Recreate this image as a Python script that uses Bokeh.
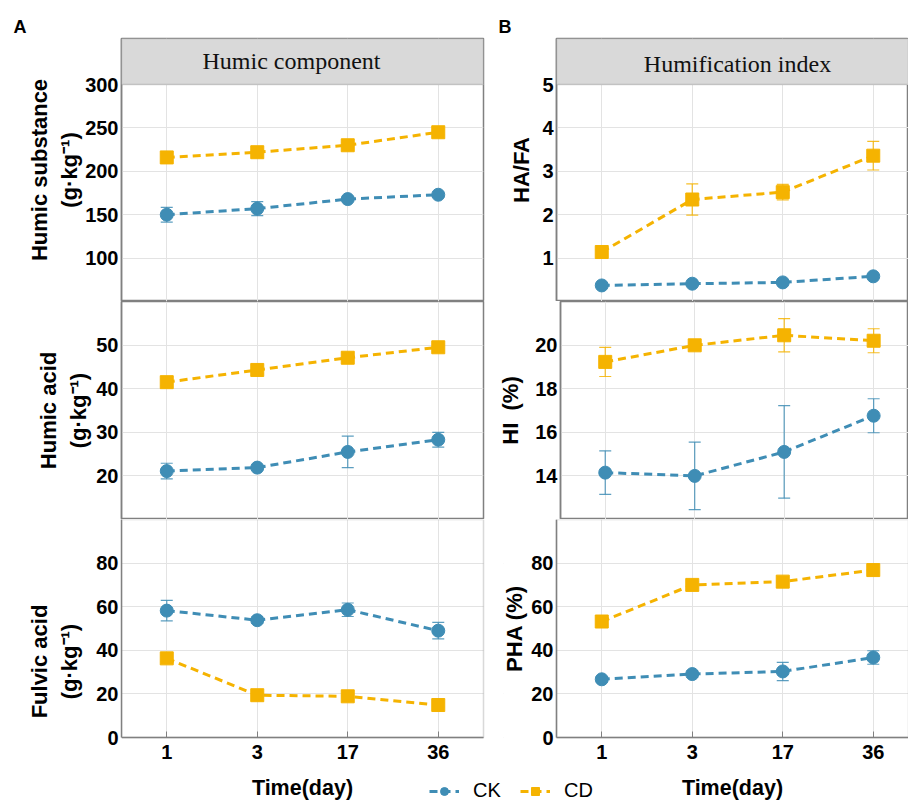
from bokeh.plotting import figure
from bokeh.layouts import column, row
from bokeh.models import (Range1d, FixedTicker, Whisker, ColumnDataSource, Label,
                          Legend, LegendItem, TeeHead, BoxAnnotation)
from bokeh.embed import file_html
from bokeh.resources import INLINE

# ---------------- data ----------------
days = ["1", "3", "17", "36"]

hs_ck = [150, 157, 168, 173]
hs_ck_err = [8.5, 8, 3, 3]
hs_cd = [216, 222, 230, 245]
hs_cd_err = [3, 3, 3, 3]

ha_ck = [21.1, 21.9, 25.5, 28.3]
ha_ck_err = [1.8, 0.6, 3.6, 1.7]
ha_cd = [41.5, 44.3, 47.1, 49.5]
ha_cd_err = [0.8, 0.8, 0.8, 0.8]

fa_ck = [58.2, 53.8, 58.6, 49.0]
fa_ck_err = [4.7, 1.5, 3.1, 3.8]
fa_cd = [36.3, 19.4, 18.9, 14.9]
fa_cd_err = [1.5, 1.0, 1.0, 1.0]

hafa_ck = [0.37, 0.41, 0.44, 0.58]
hafa_ck_err = [0.03, 0.03, 0.03, 0.03]
hafa_cd = [1.14, 2.35, 2.52, 3.36]
hafa_cd_err = [0.05, 0.36, 0.18, 0.33]

hi_ck = [14.15, 14.0, 15.1, 16.76]
hi_ck_err = [1.0, 1.55, 2.12, 0.78]
hi_cd = [19.23, 19.99, 20.45, 20.2]
hi_cd_err = [0.67, 0.12, 0.76, 0.55]

pha_ck = [26.7, 29.1, 30.3, 36.7]
pha_ck_err = [1.2, 1.5, 4.2, 3.1]
pha_cd = [53.2, 70.0, 71.5, 76.8]
pha_cd_err = [1.2, 1.5, 1.5, 1.2]

hs_ticks = [100, 150, 200, 250, 300]
ha_ticks = [20, 30, 40, 50]
fa_ticks = [0, 20, 40, 60, 80]
hafa_ticks = [1, 2, 3, 4, 5]
hi_ticks = [14, 16, 18, 20]
pha_ticks = [0, 20, 40, 60, 80]

hs_lim = (50, 300)
ha_lim = (10, 60)
fa_lim = (0, 100)
hafa_lim = (0, 5)
hi_lim = (12, 22)
pha_lim = (0, 100)

unit = "(g\u00b7kg\u207b\u00b9)"

# ---------------- style / layout constants ----------------
CK_COLOR = "#3f8db5"
CD_COLOR = "#f5b301"
FRAME = "#808080"
GRID = "#e3e3e3"
HEAD_FILL = "#d9d9d9"
SANS = "Liberation Sans"

x_idx = list(range(len(days)))
n = len(days)
LEFT_FRAME = 362          # full panel width in px
PX = LEFT_FRAME / n       # px per category
RIGHT_VIS = 352           # visible part of right panel
HEAD_H = 46               # header strip height
P1_H, P2_H, P3_H = 217, 218, 218
BOTTOM_H = 66             # area under bottom panels
x_lo = -0.5
x_hi = n - 0.5
x_end_right = x_lo + RIGHT_VIS / PX


def style_yaxis(p, ylabel, lab_standoff, yticks):
    yt = FixedTicker(ticks=yticks)
    p.yaxis.ticker = yt
    p.ygrid.ticker = yt
    ya = p.yaxis[0]
    ya.axis_label = ylabel
    ya.axis_label_text_font = SANS
    ya.axis_label_text_font_style = "bold"
    ya.axis_label_text_font_size = "22px"
    ya.axis_label_text_color = "black"
    ya.axis_label_standoff = lab_standoff
    ya.major_label_text_font = SANS
    ya.major_label_text_font_style = "bold"
    ya.major_label_text_font_size = "20px"
    ya.major_label_text_color = "black"
    ya.major_label_standoff = 3
    ya.major_tick_in = 0
    ya.major_tick_out = 0
    ya.minor_tick_in = 0
    ya.minor_tick_out = 0
    ya.axis_line_color = FRAME
    ya.axis_line_width = 1.5


def base_fig(width, height, xr, yr, bl, br, bt, bb):
    p = figure(width=width, height=height, x_range=Range1d(*xr), y_range=Range1d(*yr),
               min_border_left=bl, min_border_right=br, min_border_top=bt,
               min_border_bottom=bb, output_backend="svg", toolbar_location=None, tools="")
    p.background_fill_color = "white"
    p.border_fill_color = "white"
    p.outline_line_color = FRAME
    p.outline_line_width = 1.5
    xt = FixedTicker(ticks=x_idx)
    p.xaxis.ticker = xt
    p.xgrid.ticker = xt
    p.xgrid.grid_line_color = GRID
    p.ygrid.grid_line_color = GRID
    return p


def add_series(p, y, err, color, marker):
    lower = [a - e for a, e in zip(y, err)]
    upper = [a + e for a, e in zip(y, err)]
    src = ColumnDataSource(dict(x=x_idx, y=y, lower=lower, upper=upper))
    w = Whisker(base="x", lower="lower", upper="upper", source=src,
                line_color=color, line_width=1.2, line_alpha=0.85,
                upper_head=TeeHead(size=12, line_color=color, line_width=1.2, line_alpha=0.85),
                lower_head=TeeHead(size=12, line_color=color, line_width=1.2, line_alpha=0.85))
    p.add_layout(w)
    ln = p.line("x", "y", source=src, line_color=color, line_width=3, line_dash="8 5")
    sc = p.scatter("x", "y", source=src, marker=marker, size=13, fill_color=color,
                   line_color=color)
    return [ln, sc]


def top_panel(side, lim, yticks, ylabel, standoff, head_text, head_x, head_y,
              letter, letter_off, ck, ck_err, cd, cd_err):
    lo, hi = lim
    y_end = hi + (hi - lo) * HEAD_H / P1_H
    if side == "L":
        p = base_fig(495, 38 + HEAD_H + P1_H, (x_lo, x_hi), (lo, y_end), 121, 495 - 121 - LEFT_FRAME, 38, 0)
    else:
        p = base_fig(413, 38 + HEAD_H + P1_H, (x_lo, x_end_right), (lo, y_end), 413 - RIGHT_VIS, 0, 38, 0)
    p.xaxis.visible = False
    style_yaxis(p, ylabel, standoff, yticks)
    add_series(p, ck, ck_err, CK_COLOR, "circle")
    add_series(p, cd, cd_err, CD_COLOR, "square")
    p.add_layout(BoxAnnotation(bottom=hi, fill_color=HEAD_FILL, fill_alpha=1,
                               line_color=FRAME, line_width=1.5))
    p.add_layout(Label(x=head_x, y=head_y, x_units="screen", y_units="screen", text=head_text,
                       text_font="Liberation Serif", text_font_size="24px",
                       text_align="center", text_baseline="middle", text_color="#111111"))
    p.title.text = letter
    p.title.align = "left"
    p.title.offset = letter_off
    p.title.standoff = 4
    p.title.text_font = SANS
    p.title.text_font_style = "bold"
    p.title.text_font_size = "18px"
    p.title.text_color = "black"
    return p


def mid_panel(side, lim, yticks, ylabel, standoff, ck, ck_err, cd, cd_err):
    if side == "L":
        p = base_fig(495, P2_H, (x_lo, x_hi), lim, 121, 495 - 121 - LEFT_FRAME, 0, 0)
    else:
        p = base_fig(413, P2_H, (x_lo, x_end_right), lim, 413 - RIGHT_VIS, 0, 0, 0)
    p.xaxis.visible = False
    style_yaxis(p, ylabel, standoff, yticks)
    add_series(p, ck, ck_err, CK_COLOR, "circle")
    add_series(p, cd, cd_err, CD_COLOR, "square")
    return p


def bottom_panel(side, lim, yticks, ylabel, standoff, ck, ck_err, cd, cd_err):
    lo, hi = lim
    y_start = lo - (hi - lo) * BOTTOM_H / P3_H
    if side == "L":
        width = 503
        xr = (x_lo, x_hi + (width - 121 - LEFT_FRAME) / PX)
        p = base_fig(width, P3_H + BOTTOM_H, xr, (y_start, hi), 121, 0, 0, 0)
    else:
        width = 405
        xr = (x_end_right - width / PX, x_end_right)
        p = base_fig(width, P3_H + BOTTOM_H, xr, (y_start, hi), 0, 0, 0, 0)
        p.yaxis.fixed_location = x_lo
    p.outline_line_color = None
    style_yaxis(p, ylabel, standoff, yticks)
    p.yaxis.bounds = (lo, hi)

    # blank out grid lines outside the panel box
    p.add_layout(BoxAnnotation(top=lo, fill_color="white", fill_alpha=1, line_color=None,
                               level="underlay"))
    if side == "L":
        p.add_layout(BoxAnnotation(left=x_hi, fill_color="white", fill_alpha=1,
                                   line_color=None, level="underlay"))
    else:
        p.add_layout(BoxAnnotation(right=x_lo, fill_color="white", fill_alpha=1,
                                   line_color=None, level="underlay"))

    xa = p.xaxis[0]
    xa.fixed_location = lo
    xa.bounds = (x_lo, x_hi)
    xa.major_label_overrides = {i: d for i, d in zip(x_idx, days)}
    xa.major_tick_in = 6
    xa.major_tick_out = 0
    xa.minor_tick_in = 0
    xa.minor_tick_out = 0
    xa.major_tick_line_color = FRAME
    xa.axis_line_color = FRAME
    xa.axis_line_width = 1.5
    xa.axis_label = "Time(day)"
    xa.axis_label_text_font = SANS
    xa.axis_label_text_font_style = "bold"
    xa.axis_label_text_font_size = "21.5px"
    xa.axis_label_text_color = "black"
    xa.axis_label_standoff = 14
    xa.major_label_text_font = SANS
    xa.major_label_text_font_style = "bold"
    xa.major_label_text_font_size = "20px"
    xa.major_label_text_color = "black"
    xa.major_label_standoff = 7

    ck_r = add_series(p, ck, ck_err, CK_COLOR, "circle")
    cd_r = add_series(p, cd, cd_err, CD_COLOR, "square")

    # panel border
    if side == "L":
        p.add_layout(BoxAnnotation(bottom=lo, right=x_hi, fill_alpha=0,
                                   line_color=FRAME, line_width=1.5))
    else:
        p.add_layout(BoxAnnotation(bottom=lo, left=x_lo, fill_alpha=0,
                                   line_color=FRAME, line_width=1.5))
    return p, ck_r, cd_r


def legend_for(label, rends, vx):
    return Legend(items=[LegendItem(label=label, renderers=rends)],
                  location=(vx, 1), orientation="horizontal",
                  border_line_color=None, background_fill_alpha=0,
                  padding=0, margin=0, spacing=0, glyph_width=30, glyph_height=20,
                  label_standoff=14, label_text_font=SANS, label_text_font_size="20px",
                  label_text_color="black")


p1L = top_panel("L", hs_lim, hs_ticks, "Humic substance\n" + unit, 0,
                "Humic component", 170, 241, "A", -108,
                hs_ck, hs_ck_err, hs_cd, hs_cd_err)
p1R = top_panel("R", hafa_lim, hafa_ticks, "HA/FA", 5,
                "Humification index", 181, 238, "B", -58,
                hafa_ck, hafa_ck_err, hafa_cd, hafa_cd_err)

p2L = mid_panel("L", ha_lim, ha_ticks, "Humic acid\n" + unit, 2,
                ha_ck, ha_ck_err, ha_cd, ha_cd_err)
p2R = mid_panel("R", hi_lim, hi_ticks, "HI \u00a0(%)", 9,
                hi_ck, hi_ck_err, hi_cd, hi_cd_err)

p3L, ck3, cd3 = bottom_panel("L", fa_lim, fa_ticks, "Fulvic acid\n" + unit, 11,
                             fa_ck, fa_ck_err, fa_cd, fa_cd_err)
p3R, ck3r, cd3r = bottom_panel("R", pha_lim, pha_ticks, "PHA (%)", 1,
                               pha_ck, pha_ck_err, pha_cd, pha_cd_err)

p3L.add_layout(legend_for("CK", ck3, 429 - 121))
p3R.add_layout(legend_for("CD", cd3r, 520 - 503))

layout = column(row(p1L, p1R), row(p2L, p2R), row(p3L, p3R))

open("out.html", "w").write(file_html(layout, INLINE))
